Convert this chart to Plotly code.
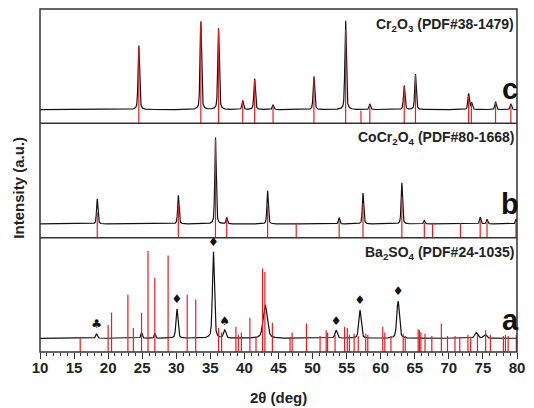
import numpy as np
import plotly.graph_objects as go
from plotly.subplots import make_subplots

# ---------------- data ----------------
# panel c : Cr2O3
c_peak_pos = [24.5, 33.6, 36.2, 39.75, 41.5, 44.2, 50.2, 54.85, 58.4, 63.45, 65.1, 72.9, 73.35, 76.85, 79.1]
c_peak_top = [0.68, 0.89, 0.83, 0.20, 0.39, 0.16, 0.41, 0.90, 0.17, 0.33, 0.43, 0.26, 0.18, 0.19, 0.17]
c_stick_pos = [24.5, 33.6, 36.2, 39.75, 41.5, 44.2, 50.2, 54.85, 57.1, 58.4, 63.45, 65.1, 72.9, 73.3, 76.85, 79.1]
c_stick_top = [0.67, 0.89, 0.82, 0.19, 0.38, 0.15, 0.40, 0.82, 0.11, 0.16, 0.32, 0.42, 0.24, 0.18, 0.18, 0.16]

# panel b : CoCr2O4
b_peak_pos = [18.4, 30.3, 35.75, 37.4, 43.4, 53.9, 57.4, 63.1, 66.4, 74.6, 75.6, 79.85]
b_peak_top = [0.34, 0.37, 0.88, 0.175, 0.41, 0.175, 0.39, 0.48, 0.15, 0.18, 0.16, 0.16]
b_stick_pos = [18.4, 30.3, 35.75, 37.4, 43.4, 47.6, 53.9, 57.4, 63.1, 66.4, 67.6, 71.7, 74.6, 75.6, 79.85]
b_stick_top = [0.22, 0.30, 0.86, 0.16, 0.28, 0.13, 0.15, 0.30, 0.36, 0.13, 0.13, 0.13, 0.15, 0.14, 0.15]

# panel a : sample with Ba2SO4 reference
a_peak_pos = [18.3, 24.9, 26.85, 30.1, 35.45, 37.1, 43.05, 53.45, 56.95, 62.55, 74.0, 75.3]
a_peak_top = [0.157, 0.17, 0.16, 0.376, 0.877, 0.19, 0.41, 0.19, 0.367, 0.446, 0.17, 0.155]
a_peak_hw = [0.15, 0.12, 0.12, 0.17, 0.17, 0.2, 0.35, 0.2, 0.2, 0.22, 0.25, 0.25]
a_stick_pos = [15.9, 20.0, 20.5, 22.9, 23.7, 24.9, 25.85, 26.85, 28.8, 31.6, 32.85, 36.2, 36.65,
               38.75, 39.1, 39.55, 40.8, 41.7, 42.65, 43.0, 44.1, 46.7, 47.0, 49.1, 51.1, 52.0,
               52.2, 53.3, 54.7, 55.1, 55.4, 56.1, 56.7, 57.8, 58.1, 60.3, 60.6, 61.5, 63.3, 63.6,
               65.5, 65.7, 65.9, 66.5, 67.5, 68.9, 69.8, 70.9, 71.6, 72.8, 73.2, 74.2, 75.4, 76.1,
               78.0, 78.3, 78.7, 79.9]
a_stick_top = [0.13, 0.236, 0.344, 0.50, 0.21, 0.344, 0.883, 0.65, 0.843, 0.50, 0.46, 0.21, 0.17,
               0.22, 0.15, 0.17, 0.30, 0.13, 0.73, 0.70, 0.256, 0.13, 0.17, 0.25, 0.14, 0.19,
               0.17, 0.15, 0.22, 0.21, 0.15, 0.16, 0.14, 0.16, 0.15, 0.22, 0.17, 0.14, 0.16, 0.14,
               0.20, 0.19, 0.17, 0.16, 0.14, 0.25, 0.14, 0.14, 0.13, 0.15, 0.13, 0.15, 0.19, 0.15,
               0.14, 0.15, 0.14, 0.15]
a_mark_pos = [18.3, 30.1, 35.45, 37.1, 53.45, 56.95, 62.55]
a_mark_sym = ["♣", "♦", "♦", "♠", "♦", "♦", "♦"]

x_ticks = [10, 15, 20, 25, 30, 35, 40, 45, 50, 55, 60, 65, 70, 75, 80]

panel_labels = ["Cr<sub>2</sub>O<sub>3</sub> (PDF#38-1479)",
                "CoCr<sub>2</sub>O<sub>4</sub> (PDF#80-1668)",
                "Ba<sub>2</sub>SO<sub>4</sub> (PDF#24-1035)"]
panel_letters = ["c", "b", "a"]

# ---------------- helpers ----------------
theta = np.arange(10, 80.0001, 0.02)
BASE = 0.12


def profile(pos, top, hw, base=BASE):
    y = np.full_like(theta, base)
    for p, t, w in zip(pos, top, hw):
        d = (theta - p) / w
        y += (t - base) * (0.45 / (1 + d ** 2) + 0.55 * np.exp(-np.log(2) * d ** 2))
    return y


def sticks(pos, top):
    xs, ys = [], []
    for p, t in zip(pos, top):
        xs += [p, p, None]
        ys += [0, t, None]
    return xs, ys


RED = "#e41f23"
BLACK = "#111111"
FRAME = "#333333"
FONT = "Liberation Sans, Arial, sans-serif"

fig = make_subplots(rows=3, cols=1, shared_xaxes=True, vertical_spacing=0)

panels = [
    (c_peak_pos, c_peak_top, [0.13] * len(c_peak_pos), c_stick_pos, c_stick_top),
    (b_peak_pos, b_peak_top, [0.12] * len(b_peak_pos), b_stick_pos, b_stick_top),
    (a_peak_pos, a_peak_top, a_peak_hw, a_stick_pos, a_stick_top),
]

for i, (pp, pt, hw, sp, st) in enumerate(panels):
    row = i + 1
    fig.add_trace(go.Scatter(x=theta, y=profile(pp, pt, hw), mode="lines",
                             line=dict(color=BLACK, width=1.2), hoverinfo="skip"),
                  row=row, col=1)
    sx, sy = sticks(sp, st)
    fig.add_trace(go.Scatter(x=sx, y=sy, mode="lines",
                             line=dict(color=RED, width=1.2), hoverinfo="skip"),
                  row=row, col=1)

# phase markers in panel a
a_top_lookup = dict(zip(a_peak_pos, a_peak_top))
fig.add_trace(go.Scatter(x=a_mark_pos, y=[a_top_lookup[p] + 0.075 for p in a_mark_pos],
                         mode="text", text=a_mark_sym,
                         textfont=dict(family="DejaVu Sans", size=12, color=BLACK),
                         hoverinfo="skip"), row=3, col=1)

plain = dict(showline=False, showgrid=False, zeroline=False)

for r in (1, 2, 3):
    fig.update_yaxes(range=[0, 1], showticklabels=False, ticks="", **plain, row=r, col=1)
    if r < 3:
        fig.update_xaxes(range=[10, 80], showticklabels=False, ticks="", **plain, row=r, col=1)

fig.update_xaxes(range=[10, 80], tickmode="array", tickvals=x_ticks,
                 ticks="outside", ticklen=6, tickwidth=1.3, tickcolor=FRAME,
                 ticklabelstandoff=-4,
                 minor=dict(dtick=1, ticks="outside", ticklen=3, tickwidth=1.1, tickcolor=FRAME),
                 tickfont=dict(family=FONT, size=15, color="#222222", weight="bold"),
                 **plain, row=3, col=1)

# frame and panel dividers
shapes = [dict(type="rect", xref="paper", yref="paper", x0=0, x1=1, y0=0, y1=1,
               line=dict(color=FRAME, width=1.5), fillcolor="rgba(0,0,0,0)", layer="above")]
for yv in (1 / 3, 2 / 3):
    shapes.append(dict(type="line", xref="paper", yref="paper", x0=0, x1=1, y0=yv, y1=yv,
                       line=dict(color=FRAME, width=1.5), layer="above"))

annotations = []
label_y = [0.953, 0.623, 0.288]
letter_y = [0.766, 0.432, 0.094]
for i in range(3):
    annotations.append(dict(x=0.997, y=label_y[i], xref="paper", yref="paper", showarrow=False,
                            text=panel_labels[i], xanchor="right", yanchor="middle",
                            font=dict(family=FONT, size=14, color="#222222", weight="bold")))
    annotations.append(dict(x=0.986, y=letter_y[i], xref="paper", yref="paper", showarrow=False,
                            text=panel_letters[i], xanchor="center", yanchor="middle",
                            font=dict(family=FONT, size=29, color="#111111", weight="bold")))
annotations.append(dict(x=0.5, y=-0.134, xref="paper", yref="paper", showarrow=False,
                        text="2θ (deg)", xanchor="center", yanchor="middle",
                        font=dict(family=FONT, size=15, color="#222222", weight="bold")))
annotations.append(dict(x=-0.047, y=0.478, xref="paper", yref="paper", showarrow=False,
                        text="Intensity (a.u.)", textangle=-90, xanchor="center", yanchor="middle",
                        font=dict(family=FONT, size=15, color="#222222", weight="bold")))

fig.update_layout(width=534, height=408, margin=dict(l=40, r=10, t=9, b=56),
                  plot_bgcolor="white", paper_bgcolor="white", showlegend=False,
                  annotations=annotations, shapes=shapes)

fig.write_html("out.html")
